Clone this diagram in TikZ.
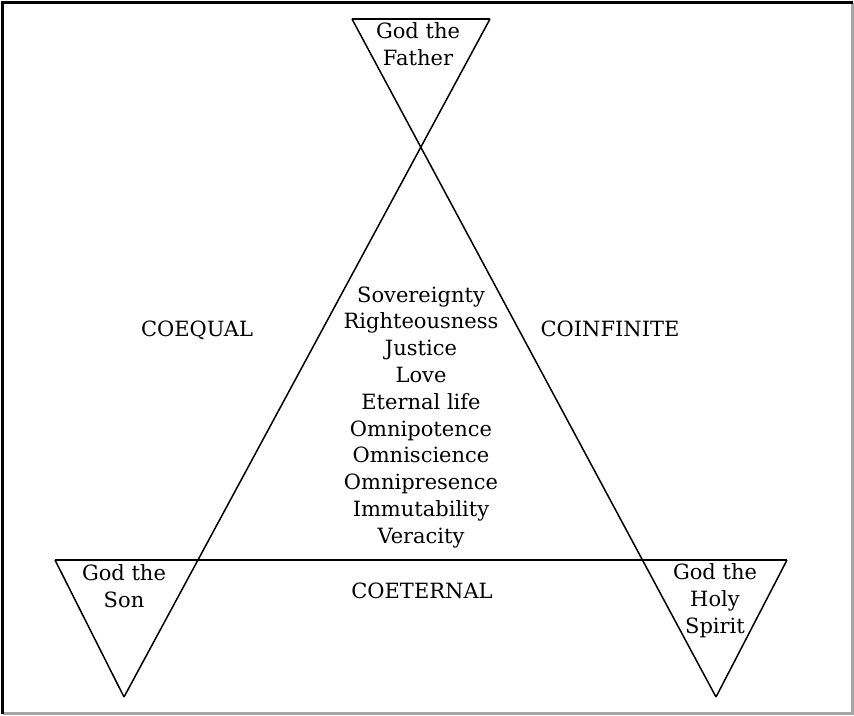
\documentclass[tikz,border=0pt]{standalone}
\usepackage{fontspec}
\setmainfont{DejaVu Serif}
\begin{document}
\begin{tikzpicture}[x=1pt,y=-1pt,
  edge/.style={line width=1.5pt, black},
  lbl/.style={font=\fontsize{21}{27}\selectfont, inner sep=0pt, anchor=base, text=black}]
\useasboundingbox (0,0) rectangle (854,715);
\fill[white] (0,0) rectangle (854,715);
% frame
\draw[gray!70, line width=2.5pt] (852.5,2.5) -- (852.5,713.5) -- (2.5,713.5);
\draw[black, line width=2.5pt] (2.5,713.5) -- (2.5,2.5) -- (852.5,2.5);
% triangle corners
\coordinate (F1) at (352,19);
\coordinate (F2) at (490,19);
\coordinate (S1) at (55,560);
\coordinate (Sa) at (124,697);
\coordinate (H2) at (787,560);
\coordinate (Ha) at (716,697);
\draw[edge] (F1) -- (Ha);
\draw[edge] (F2) -- (Sa);
\draw[edge] (F1) -- (F2);
\draw[edge] (S1) -- (H2);
\draw[edge] (S1) -- (Sa);
\draw[edge] (H2) -- (Ha);
% labels
\node[lbl] (f1) at (418,38) {God the};
\node[lbl] (f2) at (418,65) {Father};
\node[lbl] (s1) at (124,580) {God the};
\node[lbl] (s2) at (124,607) {Son};
\node[lbl] (h1) at (715,579) {God the};
\node[lbl] (h2) at (715,606) {Holy};
\node[lbl] (h3) at (715,633) {Spirit};
\node[lbl] (coeq) at (197,336) {COEQUAL};
\node[lbl] (coin) at (610,336) {COINFINITE};
\node[lbl] (coet) at (422,598) {COETERNAL};
\foreach \t [count=\i from 0] in {Sovereignty,Righteousness,Justice,Love,Eternal life,Omnipotence,Omniscience,Omnipresence,Immutability,Veracity}
  \node[lbl] (attr\i) at (421,302+26.8*\i) {\t};
\end{tikzpicture}
\end{document}
